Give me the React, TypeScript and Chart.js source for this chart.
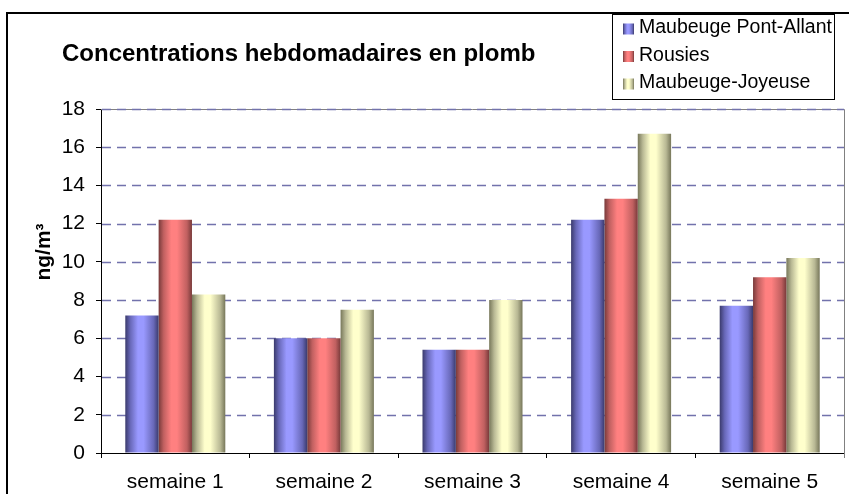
import React, { useEffect, useRef } from 'react';
import { Chart, registerables } from 'chart.js';

Chart.register(...registerables);

const categories = ['semaine 1', 'semaine 2', 'semaine 3', 'semaine 4', 'semaine 5'];
const seriesNames = ['Maubeuge Pont-Allant', 'Rousies', 'Maubeuge-Joyeuse'];
const pontAllant = [7.2, 6.0, 5.4, 12.2, 7.7];
const rousies = [12.2, 6.0, 5.4, 13.3, 9.2];
const joyeuse = [8.3, 7.5, 8.0, 16.7, 10.2];
const yMin = 0;
const yMax = 18;
const yStep = 2;
const titleText = 'Concentrations hebdomadaires en plomb';
const yTitleText = 'ng/m³';

const FONT = "'Liberation Sans', Arial, sans-serif";

const palettes = [
  { dark: '#3a3a6c', mid: '#6868b8', light: '#9999ff' },
  { dark: '#783a3a', mid: '#c06060', light: '#ff8080' },
  { dark: '#77775a', mid: '#b8b894', light: '#ffffcc' },
];

function makeGrad(ctx: CanvasRenderingContext2D, x0: number, x1: number, p: { dark: string; mid: string; light: string }) {
  const g = ctx.createLinearGradient(x0, 0, x1, 0);
  g.addColorStop(0, p.dark);
  g.addColorStop(0.15, p.mid);
  g.addColorStop(0.38, p.light);
  g.addColorStop(0.55, p.light);
  g.addColorStop(0.85, p.mid);
  g.addColorStop(1, p.dark);
  return g;
}

const decorPlugin = {
  id: 'decor',
  beforeDatasetsDraw(chart: any) {
    const { ctx, chartArea: a } = chart;
    const y = chart.scales.y;
    ctx.save();
    ctx.strokeStyle = '#808080';
    ctx.lineWidth = 1;
    ctx.beginPath();
    ctx.moveTo(a.left, Math.round(a.top) + 0.5);
    ctx.lineTo(Math.round(a.right) + 0.5, Math.round(a.top) + 0.5);
    ctx.lineTo(Math.round(a.right) + 0.5, a.bottom + 5);
    ctx.stroke();
    ctx.strokeStyle = '#7272ac';
    ctx.lineWidth = 1.5;
    ctx.setLineDash([9, 6]);
    y.ticks.forEach((t: any) => {
      if (t.value <= yMin) return;
      const py = Math.round(y.getPixelForValue(t.value)) + 0.5;
      ctx.beginPath();
      ctx.moveTo(a.left + 1, py);
      ctx.lineTo(a.right, py);
      ctx.stroke();
    });
    ctx.restore();
    chart.data.datasets.forEach((ds: any, i: number) => {
      const meta = chart.getDatasetMeta(i);
      meta.data.forEach((el: any) => {
        const w = el.width;
        const g = makeGrad(ctx, el.x - w / 2, el.x + w / 2, palettes[i]);
        el.options = Object.assign({}, el.options, { backgroundColor: g });
      });
    });
  },
  afterDraw(chart: any) {
    const { ctx } = chart;
    ctx.save();
    ctx.strokeStyle = '#000';
    ctx.lineWidth = 2;
    ctx.strokeRect(7, 13, 2000, 2000);
    ctx.fillStyle = '#000';
    ctx.font = `bold 24px ${FONT}`;
    ctx.textAlign = 'left';
    ctx.textBaseline = 'middle';
    ctx.fillText(titleText, 62, 54);
    ctx.save();
    ctx.translate(44, 252);
    ctx.rotate(-Math.PI / 2);
    ctx.font = `bold 21px ${FONT}`;
    ctx.textAlign = 'center';
    ctx.textBaseline = 'middle';
    ctx.fillText(yTitleText, 0, 0);
    ctx.restore();
    const bx = 612, by = 14, bw = 222, bh = 85;
    ctx.fillStyle = '#fff';
    ctx.fillRect(bx, by, bw, bh);
    ctx.strokeStyle = '#000';
    ctx.lineWidth = 1;
    ctx.strokeRect(bx + 0.5, by + 0.5, bw, bh);
    ctx.font = `19.5px ${FONT}`;
    ctx.textAlign = 'left';
    ctx.textBaseline = 'middle';
    seriesNames.forEach((name, i) => {
      const cy = 28 + i * 27.5;
      const sx = 623, sw = 11, sh = 11;
      ctx.fillStyle = makeGrad(ctx, sx, sx + sw, palettes[i]);
      ctx.fillRect(sx, cy - sh / 2 + 1, sw, sh);
      ctx.fillStyle = '#000';
      ctx.fillText(name, 639, cy);
    });
    ctx.restore();
  },
};

export default function App() {
  const ref = useRef<HTMLCanvasElement | null>(null);
  useEffect(() => {
    document.body.style.margin = '0';
    const canvas = ref.current!;
    const chart = new Chart(canvas, {
      type: 'bar',
      data: {
        labels: categories,
        datasets: [
          { label: seriesNames[0], data: pontAllant, backgroundColor: palettes[0].light },
          { label: seriesNames[1], data: rousies, backgroundColor: palettes[1].light },
          { label: seriesNames[2], data: joyeuse, backgroundColor: palettes[2].light },
        ],
      },
      options: {
        animation: false,
        responsive: false,
        devicePixelRatio: 1,
        events: [],
        layout: { padding: { left: 0, top: 109, right: 5, bottom: 0 } },
        datasets: { bar: { barPercentage: 1, categoryPercentage: 0.673, borderWidth: 0 } },
        plugins: { legend: { display: false }, title: { display: false }, tooltip: { enabled: false } },
        scales: {
          x: {
            grid: { drawOnChartArea: false, tickLength: 5, color: '#000', tickColor: '#000', offset: true },
            border: { color: '#000', width: 1 },
            ticks: { color: '#000', font: { family: FONT, size: 21 }, padding: 12, maxRotation: 0 },
            afterFit: (s: any) => { s.height = 41; },
          },
          y: {
            min: yMin,
            max: yMax,
            grid: { drawOnChartArea: false, tickLength: 5, tickColor: '#000' },
            border: { color: '#000', width: 1 },
            ticks: { stepSize: yStep, color: '#000', font: { family: FONT, size: 21 }, padding: 11 },
            afterFit: (s: any) => { s.width = 101; },
          },
        },
      },
      plugins: [decorPlugin],
    });
    return () => chart.destroy();
  }, []);
  return <canvas ref={ref} width={849} height={494} style={{ display: 'block' }} />;
}
